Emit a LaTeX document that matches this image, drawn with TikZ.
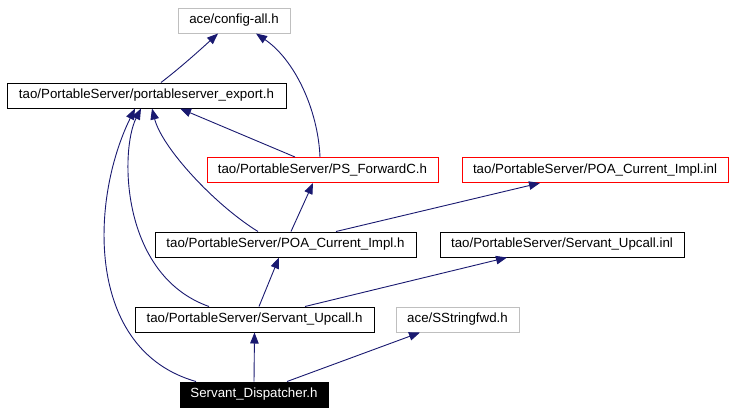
\documentclass[tikz,border=0pt]{standalone}
\usepackage{fontspec}
\setmainfont{Liberation Sans}
\usetikzlibrary{arrows.meta}
\definecolor{edgeblue}{HTML}{191970}
\definecolor{grayborder}{HTML}{BFBFBF}
\tikzset{
  box/.style={draw=black, line width=1pt, rectangle, minimum height=25pt, inner sep=0pt, font=\fontsize{13.3}{16}\selectfont, text=black},
  graybox/.style={box, draw=grayborder},
  redbox/.style={box, draw=red},
  blackbox/.style={box, fill=black, text=white},
  dep/.style={draw=edgeblue, line width=0.9pt, -{Triangle[length=11pt,width=8.5pt]}, color=edgeblue}
}
\begin{document}
\begin{tikzpicture}[x=1pt,y=-1pt]
\useasboundingbox (0,0) rectangle (735,413);
\node[graybox, minimum width=112pt] (config) at (234,20.5) {ace/config-all.h};
\node[box, minimum width=279pt] (export) at (146.5,95.5) {tao/PortableServer/portableserver\_export.h};
\node[redbox, minimum width=231pt] (psf) at (322.5,170) {tao/PortableServer/PS\_ForwardC.h};
\node[redbox, minimum width=266pt] (inl) at (595,170) {tao/PortableServer/POA\_Current\_Impl.inl};
\node[box, minimum width=261pt] (poah) at (285.5,244.5) {tao/PortableServer/POA\_Current\_Impl.h};
\node[box, minimum width=244pt] (suinl) at (562,244.5) {tao/PortableServer/Servant\_Upcall.inl};
\node[box, minimum width=239pt] (suh) at (254.5,319.5) {tao/PortableServer/Servant\_Upcall.h};
\node[graybox, minimum width=123pt] (sstr) at (457.5,319.5) {ace/SStringfwd.h};
\node[blackbox, minimum width=148pt] (disp) at (254,394.5) {Servant\_Dispatcher.h};

\draw[dep] ([xshift=14.5pt]export.north) .. controls (180,68) and (200,50) .. ([xshift=-16pt]config.south);
\draw[dep] ([xshift=-2.5pt]psf.north) .. controls (318,110) and (295,60) .. ([xshift=22pt]config.south);
\draw[dep] ([xshift=-27.5pt]psf.north) -- ([xshift=33.5pt]export.south);
\draw[dep] ([xshift=-27.5pt]poah.north) .. controls (215,205) and (162,148) .. ([xshift=5.5pt]export.south);
\draw[dep] ([xshift=5.5pt]poah.north) -- ([xshift=-9.5pt]psf.south);
\draw[dep] ([xshift=50.5pt]poah.north) -- ([xshift=-55pt]inl.south);
\draw[dep] ([xshift=-45.5pt]suh.north) .. controls (120,275) and (120,150) .. ([xshift=-5.5pt]export.south);
\draw[dep] ([xshift=4.5pt]suh.north) -- ([xshift=-6.5pt]poah.south);
\draw[dep] ([xshift=50.5pt]suh.north) -- ([xshift=-55pt]suinl.south);
\draw[dep] ([xshift=-58pt]disp.north) .. controls (85,350) and (90,200) .. ([xshift=-11.5pt]export.south);
\draw[dep] (disp.north) -- (suh.south);
\draw[dep] ([xshift=33pt]disp.north) -- ([xshift=-37.5pt]sstr.south);
\end{tikzpicture}
\end{document}
